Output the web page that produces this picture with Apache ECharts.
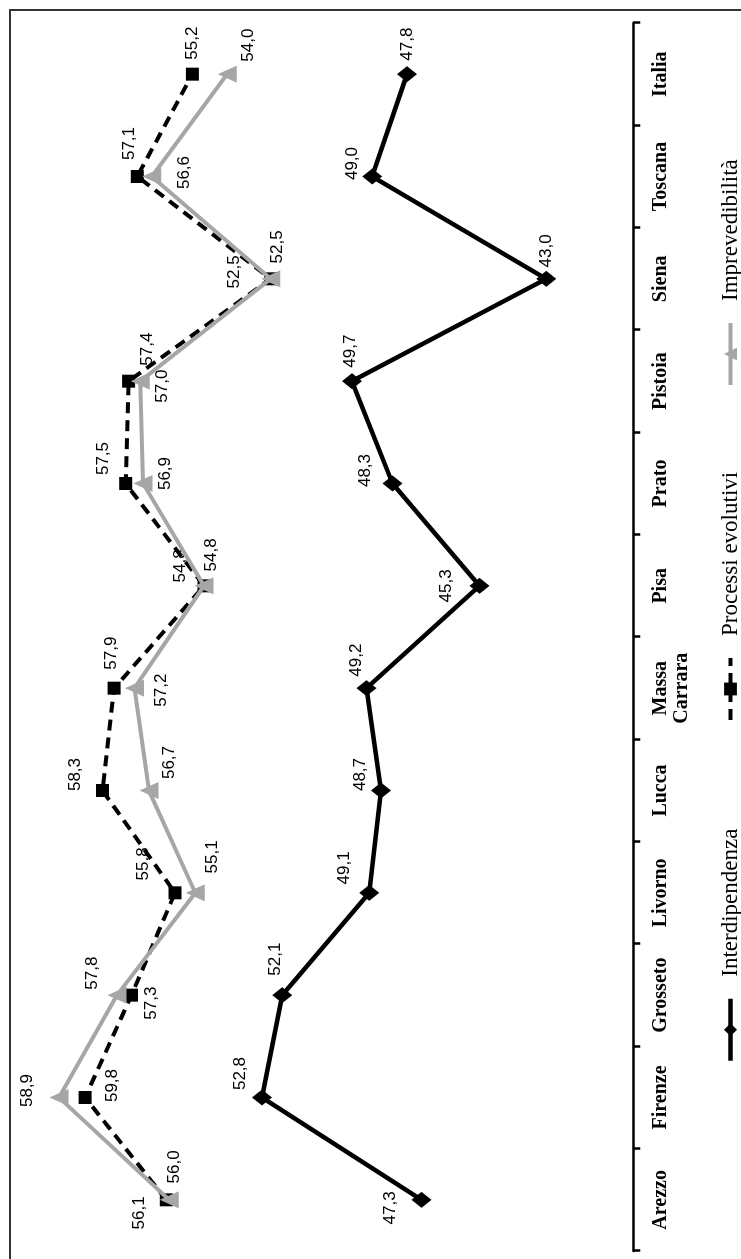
<!DOCTYPE html>
<html>
<head>
<meta charset="utf-8">
<script src="https://cdn.jsdelivr.net/npm/echarts@6/dist/echarts.min.js"></script>
<style>
  html, body { margin: 0; padding: 0; background: #fff; overflow: hidden; width: 741px; height: 1259px; }
  /* the chart is laid out landscape and turned a quarter turn so the categories run upward */
  #chart { position: absolute; left: 0; top: 0; width: 1259px; height: 741px;
           transform-origin: 0 0; transform: translate(0, 1259px) rotate(-90deg); }
</style>
</head>
<body>
<div id="chart"></div>
<script>
// Provinces of Tuscany, the regional total and the national figure
const categories = ['Arezzo', 'Firenze', 'Grosseto', 'Livorno', 'Lucca', 'Massa\nCarrara',
                    'Pisa', 'Prato', 'Pistoia', 'Siena', 'Toscana', 'Italia'];

const interdipendenza = [47.3, 52.8, 52.1, 49.1, 48.7, 49.2, 45.3, 48.3, 49.7, 43.0, 49.0, 47.8];
const processiEvolutivi = [56.1, 58.9, 57.3, 55.8, 58.3, 57.9, 54.8, 57.5, 57.4, 52.5, 57.1, 55.2];
const imprevedibilita = [56.0, 59.8, 57.8, 55.1, 56.7, 57.2, 54.8, 56.9, 57.0, 52.5, 56.6, 54.0];

// where each value label sits relative to its marker (px, landscape frame)
const interLabelShift = [[-8, -31], [24, -22], [36, -7], [25, -25], [16, -21], [28, -10],
                         [0, -33], [13, -27], [30, -2], [28, 0], [13, -20], [30, 0]];
const procLabelShift = [[-13, -27], [7, -58], [-8, 20], [29, -32], [16, -27], [35, -3],
                        [20, -24], [25, -22], [32, 19], [7, -36], [33, -8], [31, 0]];
const imprLabelShift = [[33, 5], [12, 53], [22, -25], [36, 17], [28, 20], [-2, 27],
                        [31, 7], [10, 22], [-5, 22], [32, 7], [4, 33], [29, 21]];

const fmt = v => v.toFixed(1).replace('.', ',');

function points(values, shifts) {
  return values.map((v, i) => ({
    value: v,
    label: { offset: shifts[i] }
  }));
}

const valueLabel = {
  show: true,
  position: 'inside',
  align: 'center',
  verticalAlign: 'middle',
  fontFamily: 'Liberation Sans',
  fontSize: 17,
  color: '#000',
  formatter: p => fmt(p.value)
};

const chart = echarts.init(document.getElementById('chart'), null, { renderer: 'canvas' });

const legendText = { fontFamily: 'Liberation Serif', fontSize: 23, color: '#000', padding: [0, 0, 0, 17] };
const legendBase = { top: 719, padding: 0, itemWidth: 62, itemHeight: 16, textStyle: legendText };

chart.setOption({
  animation: false,
  backgroundColor: '#fff',
  graphic: [{
    type: 'rect',
    shape: { x: -20, y: 10, width: 1269, height: 800 },
    style: { fill: 'none', stroke: '#333', lineWidth: 2 },
    silent: true
  }],
  legend: [
    Object.assign({ data: ['Interdipendenza'], left: 196, lineStyle: { width: 4.5 } }, legendBase),
    Object.assign({ data: ['Processi evolutivi'], left: 537, lineStyle: { width: 4 } }, legendBase),
    Object.assign({ data: ['Imprevedibilità'], left: 872, lineStyle: { width: 4 } }, legendBase)
  ],
  grid: { left: 8, right: 23, top: 53.2, bottom: 107.8, containLabel: false },
  xAxis: {
    type: 'category',
    data: categories,
    boundaryGap: true,
    axisLine: { show: true, lineStyle: { color: '#000', width: 2.5 } },
    axisTick: { show: true, length: 7, lineStyle: { color: '#000', width: 2.5 } },
    axisLabel: {
      fontFamily: 'Liberation Serif',
      fontWeight: 'bold',
      fontSize: 20,
      lineHeight: 21,
      color: '#000',
      margin: 17,
      interval: 0
    },
    splitLine: { show: false }
  },
  yAxis: {
    type: 'value',
    min: 40,
    max: 60,
    show: false,
    splitLine: { show: false }
  },
  series: [
    {
      name: 'Interdipendenza',
      type: 'line',
      clip: false,
      data: points(interdipendenza, interLabelShift),
      symbol: 'diamond',
      symbolSize: [16, 20],
      lineStyle: { color: '#000', width: 4.5 },
      itemStyle: { color: '#000' },
      label: valueLabel,
      z: 2
    },
    {
      name: 'Processi evolutivi',
      type: 'line',
      clip: false,
      data: points(processiEvolutivi, procLabelShift),
      symbol: 'rect',
      symbolSize: 13,
      lineStyle: { color: '#000', width: 4, type: [11, 7] },
      itemStyle: { color: '#000' },
      label: valueLabel,
      z: 3
    },
    {
      name: 'Imprevedibilità',
      type: 'line',
      clip: false,
      data: points(imprevedibilita, imprLabelShift),
      symbol: 'triangle',
      symbolSize: [17, 19],
      lineStyle: { color: '#a6a6a6', width: 4 },
      itemStyle: { color: '#a6a6a6' },
      label: valueLabel,
      z: 4
    }
  ]
});
</script>
</body>
</html>
